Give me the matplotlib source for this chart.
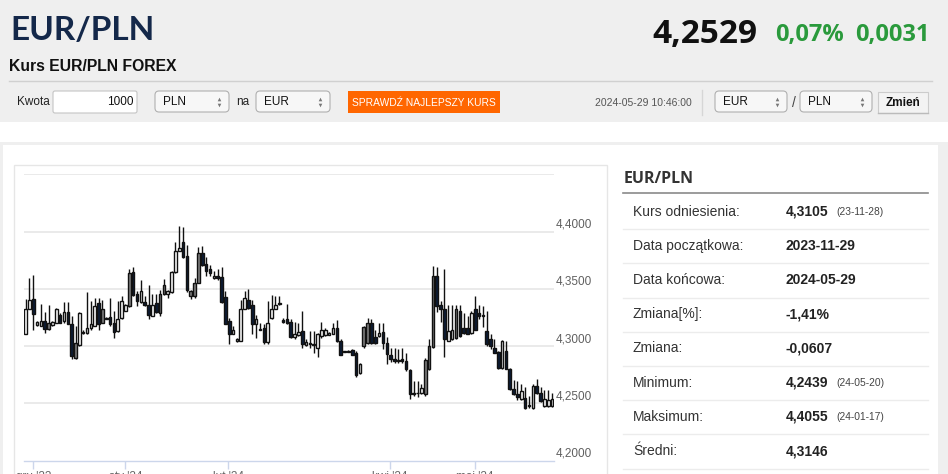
import matplotlib
matplotlib.use("Agg")
import matplotlib.pyplot as plt
from matplotlib.patches import Rectangle, FancyBboxPatch
import matplotlib.transforms as mtransforms
import numpy as np

# --- data: daily EUR/PLN candles, 2023-11-29 .. 2024-05-29
opens = [4.3108, 4.3326, 4.3413, 4.3183, 4.3180, 4.3218, 4.3151, 4.3183, 4.3203, 4.3270,
         4.3218, 4.3299, 4.3195, 4.2898, 4.3006, 4.3122, 4.3116, 4.3160, 4.3180, 4.3378,
         4.3203, 4.3247, 4.3253, 4.3203, 4.3131, 4.3247, 4.3311, 4.3349, 4.3648, 4.3451,
         4.3384, 4.3384, 4.3363, 4.3267, 4.3378, 4.3291, 4.3451, 4.3451, 4.3471, 4.3645,
         4.3834, 4.3907, 4.3791, 4.3436, 4.3436, 4.3552, 4.3814, 4.3721, 4.3674, 4.3596,
         4.3616, 4.3605, 4.3427, 4.3218, 4.3108, 4.3044, 4.3049, 4.3326, 4.3407, 4.3355,
         4.3195, 4.3151, 4.3160, 4.3035, 4.3247, 4.3326, 4.3372, 4.3227, 4.3233, 4.3209,
         4.3081, 4.3093, 4.3131, 4.3009, 4.3023, 4.3012, 4.2985, 4.3087, 4.3093, 4.3099,
         4.3110, 4.3160, 4.3044, 4.2956, 4.2956, 4.2962, 4.2942, 4.2762, 4.3000, 4.3029,
         4.3203, 4.3078, 4.3087, 4.3125, 4.3029, 4.2919, 4.2884, 4.2869, 4.2884, 4.2869,
         4.2788, 4.2587, 4.2590, 4.2593, 4.2578, 4.2797, 4.2994, 4.3616, 4.3363, 4.3326,
         4.3049, 4.3058, 4.3073, 4.3311, 4.3160, 4.3160, 4.3116, 4.3320, 4.3291, 4.3276,
         4.3131, 4.3058, 4.2985, 4.2951, 4.2811, 4.2956, 4.2802, 4.2628, 4.2578, 4.2541,
         4.2549, 4.2480, 4.2462, 4.2651, 4.2593, 4.2477, 4.2477, 4.2477]
highs = [4.3413, 4.3596, 4.3625, 4.3218, 4.3372, 4.3299, 4.3363, 4.3218, 4.3334, 4.3291,
         4.3384, 4.3387, 4.3262, 4.3174, 4.3297, 4.3145, 4.3474, 4.3392, 4.3422, 4.3422,
         4.3407, 4.3250, 4.3416, 4.3305, 4.3398, 4.3436, 4.3372, 4.3669, 4.3692, 4.3480,
         4.3581, 4.3436, 4.3538, 4.3451, 4.3451, 4.3494, 4.3590, 4.3494, 4.3654, 4.3907,
         4.4052, 4.4038, 4.3887, 4.3494, 4.3596, 4.3866, 4.3872, 4.3779, 4.3712, 4.3654,
         4.3669, 4.3692, 4.3480, 4.3247, 4.3174, 4.3073, 4.3407, 4.3480, 4.3500, 4.3407,
         4.3276, 4.3203, 4.3189, 4.3392, 4.3445, 4.3436, 4.3436, 4.3247, 4.3372, 4.3238,
         4.3209, 4.3203, 4.3305, 4.3058, 4.3131, 4.3131, 4.3116, 4.3209, 4.3160, 4.3122,
         4.3203, 4.3227, 4.3058, 4.2958, 4.2962, 4.2971, 4.2956, 4.2855, 4.3174, 4.3247,
         4.3233, 4.3145, 4.3203, 4.3203, 4.3078, 4.2985, 4.2985, 4.2971, 4.2985, 4.2936,
         4.2797, 4.2695, 4.2695, 4.2666, 4.2898, 4.3058, 4.3703, 4.3692, 4.3392, 4.3677,
         4.3363, 4.3363, 4.3363, 4.3355, 4.3291, 4.3267, 4.3305, 4.3436, 4.3363, 4.3349,
         4.3305, 4.3102, 4.3058, 4.2956, 4.3052, 4.3044, 4.2811, 4.2703, 4.2695, 4.2666,
         4.2645, 4.2564, 4.2666, 4.2715, 4.2645, 4.2616, 4.2616, 4.2593]
lows = [4.3108, 4.3326, 4.3145, 4.3174, 4.3174, 4.3116, 4.3145, 4.3174, 4.3198, 4.3198,
        4.3203, 4.3189, 4.2890, 4.2890, 4.3000, 4.3110, 4.3110, 4.3145, 4.3174, 4.3145,
        4.3198, 4.3233, 4.3174, 4.3073, 4.3122, 4.3238, 4.3305, 4.3343, 4.3436, 4.3349,
        4.3378, 4.3349, 4.3233, 4.3262, 4.3291, 4.3262, 4.3445, 4.3422, 4.3465, 4.3640,
        4.3828, 4.3770, 4.3471, 4.3413, 4.3422, 4.3547, 4.3703, 4.3610, 4.3610, 4.3587,
        4.3581, 4.3378, 4.3189, 4.3015, 4.3102, 4.3038, 4.3044, 4.3320, 4.3320, 4.3102,
        4.3067, 4.3145, 4.3020, 4.3023, 4.3241, 4.3320, 4.3363, 4.3203, 4.3189, 4.3073,
        4.3058, 4.3087, 4.2985, 4.3000, 4.2983, 4.2936, 4.2907, 4.3073, 4.3087, 4.3093,
        4.3102, 4.3035, 4.2919, 4.2948, 4.2948, 4.2919, 4.2733, 4.2753, 4.2985, 4.3020,
        4.3015, 4.3023, 4.3081, 4.2971, 4.2840, 4.2860, 4.2855, 4.2855, 4.2855, 4.2782,
        4.2535, 4.2564, 4.2558, 4.2578, 4.2564, 4.2791, 4.2988, 4.3297, 4.3209, 4.2907,
        4.3044, 4.3052, 4.3064, 4.3081, 4.3108, 4.3102, 4.3110, 4.3140, 4.3233, 4.3166,
        4.3000, 4.2977, 4.2936, 4.2802, 4.2802, 4.2797, 4.2613, 4.2570, 4.2529, 4.2529,
        4.2453, 4.2462, 4.2453, 4.2584, 4.2512, 4.2468, 4.2468, 4.2471]
closes = [4.3326, 4.3407, 4.3282, 4.3209, 4.3218, 4.3151, 4.3198, 4.3212, 4.3320, 4.3203,
          4.3297, 4.3189, 4.2913, 4.3029, 4.3291, 4.3116, 4.3160, 4.3189, 4.3349, 4.3189,
          4.3320, 4.3241, 4.3189, 4.3125, 4.3238, 4.3398, 4.3363, 4.3640, 4.3445, 4.3392,
          4.3480, 4.3363, 4.3270, 4.3355, 4.3299, 4.3451, 4.3538, 4.3485, 4.3645, 4.3834,
          4.3858, 4.3779, 4.3494, 4.3480, 4.3552, 4.3814, 4.3712, 4.3654, 4.3640, 4.3616,
          4.3596, 4.3384, 4.3195, 4.3108, 4.3140, 4.3064, 4.3320, 4.3422, 4.3334, 4.3195,
          4.3238, 4.3145, 4.3035, 4.3203, 4.3326, 4.3355, 4.3369, 4.3209, 4.3198, 4.3081,
          4.3102, 4.3122, 4.3023, 4.3038, 4.3020, 4.3020, 4.3108, 4.3145, 4.3145, 4.3116,
          4.3160, 4.3044, 4.2927, 4.2951, 4.2951, 4.2927, 4.2744, 4.2846, 4.3166, 4.3203,
          4.3029, 4.3029, 4.3116, 4.3029, 4.2933, 4.2884, 4.2869, 4.2875, 4.2866, 4.2797,
          4.2578, 4.2584, 4.2593, 4.2637, 4.2875, 4.3000, 4.3616, 4.3349, 4.3326, 4.3064,
          4.3131, 4.3145, 4.3320, 4.3087, 4.3116, 4.3110, 4.3291, 4.3145, 4.3267, 4.3262,
          4.3015, 4.3000, 4.2942, 4.2811, 4.3044, 4.2802, 4.2622, 4.2578, 4.2558, 4.2608,
          4.2462, 4.2477, 4.2651, 4.2593, 4.2520, 4.2535, 4.2529, 4.2535]
# candles drawn with a grey body in the original
grey_days = [6, 13, 20, 27, 35, 36, 43, 44, 45, 75, 88, 89, 104, 105, 106, 112]

month_ticks = [2, 26, 52.7, 94.8, 117]
month_labels = ["gru '23", "sty '24", "lut '24", "kwi '24", "maj '24"]
y_levels = [4.20, 4.25, 4.30, 4.35, 4.40, 4.45]

stat_labels = ["Kurs odniesienia:", "Data początkowa:", "Data końcowa:", "Zmiana[%]:",
               "Zmiana:", "Minimum:", "Maksimum:", "Średni:"]
stat_values = ["4,3105", "2023-11-29", "2024-05-29", "-1,41%", "-0,0607", "4,2439",
               "4,4055", "4,3146"]
stat_dates = ["(23-11-28)", "", "", "", "", "(24-05-20)", "(24-01-17)", ""]

W, H = 948, 474
fig = plt.figure(figsize=(W / 100, H / 100), dpi=100)
fig.patch.set_facecolor("#efefef")

# page layer in pixel coordinates (y grows downward)
bg = fig.add_axes([0, 0, 1, 1])
bg.set_xlim(0, W)
bg.set_ylim(H, 0)
bg.axis("off")

SANS = "Liberation Sans"

# white strip below the header and the white content panel
bg.add_patch(Rectangle((0, 122), W, 20, facecolor="white", edgecolor="none"))
bg.add_patch(Rectangle((3, 145), 935, 340, facecolor="white", edgecolor="none"))

# header texts
bg.text(10, 40, "EUR/PLN", family="Lato", weight="bold", fontsize=24,
        color="#14284a", va="baseline")
bg.text(9, 71, "Kurs EUR/PLN FOREX", family=SANS, weight="bold", fontsize=11.3,
        color="#111111", va="baseline")
bg.text(757, 43, "4,2529", family="Open Sans", weight="bold", fontsize=24,
        color="#111111", va="baseline", ha="right")
bg.text(775, 41, "0,07%", family="Open Sans", weight="bold", fontsize=17,
        color="#2a9a3c", va="baseline")
bg.text(930, 41, "0,0031", family="Open Sans", weight="bold", fontsize=17,
        color="#2a9a3c", va="baseline", ha="right")
bg.plot([9, 932], [81, 81], color="#d0d0d0", lw=1)


def select_box(x0, x1, label):
    bg.add_patch(FancyBboxPatch((x0, 91), x1 - x0, 21,
                                boxstyle="round,pad=0,rounding_size=4",
                                facecolor="#f7f7f7", edgecolor="#b0b0b0", lw=0.8))
    bg.text(x0 + 8, 101.5, label, family=SANS, fontsize=8.5, color="#111", va="center")
    bg.plot([x1 - 10], [99], marker="^", ms=2.6, color="#777", mec="none")
    bg.plot([x1 - 10], [104.5], marker="v", ms=2.6, color="#777", mec="none")


# form row
bg.text(17, 102, "Kwota", family=SANS, fontsize=8.5, color="#222", va="center")
bg.add_patch(FancyBboxPatch((53, 91), 84, 22, boxstyle="round,pad=0,rounding_size=2",
                            facecolor="white", edgecolor="#c4c4c4", lw=0.8))
bg.text(134, 102, "1000", family=SANS, fontsize=8.5, color="#111", va="center", ha="right")
select_box(155, 229, "PLN")
bg.text(236, 102, "na", family=SANS, fontsize=8.5, color="#222", va="center")
select_box(256, 330, "EUR")
bg.add_patch(Rectangle((348, 91), 152, 22, facecolor="#ff6600", edgecolor="none"))
bg.text(424, 102.5, "SPRAWDŹ NAJLEPSZY KURS", family=SANS, fontsize=7.4,
        color="white", va="center", ha="center")
bg.text(595, 103, "2024-05-29 10:46:00", family=SANS, fontsize=7.5, color="#555",
        va="center")
bg.plot([702, 702], [90, 115], color="#d6d6d6", lw=1)
select_box(715, 787, "EUR")
bg.text(794, 103, "/", family=SANS, fontsize=10, color="#444", va="center", ha="center")
select_box(800, 872, "PLN")
bg.add_patch(Rectangle((878, 92), 50, 21, facecolor="#f3f3f3", edgecolor="#cccccc", lw=0.8))
bg.plot([878, 928], [113, 113], color="#bbbbbb", lw=1)
bg.text(903, 102.5, "Zmień", family=SANS, weight="bold", fontsize=8.5, color="#111",
        va="center", ha="center")

# chart frame
bg.add_patch(Rectangle((14, 164.5), 593, 330, facecolor="white",
                       edgecolor="#e6e6e6", lw=1))

# stats panel
bg.text(624, 183, "EUR/PLN", family="Open Sans", weight="bold", fontsize=11.5,
        color="#333333", va="baseline")
bg.plot([623, 928], [193.3, 193.3], color="#8a8a8a", lw=1.2)
row_y = 211.7
for lab, val, dt in zip(stat_labels, stat_values, stat_dates):
    bg.text(633, row_y, lab, family=SANS, fontsize=10, color="#333", va="center")
    bg.text(786, row_y, val, family=SANS, fontsize=10, weight="bold", color="#222",
            va="center")
    if dt:
        bg.text(836, row_y + 0.5, dt, family=SANS, fontsize=7.4, color="#444", va="center")
    bg.plot([623, 928], [row_y + 17.5, row_y + 17.5], color="#ececec", lw=1)
    row_y += 34.2

# candlestick chart
ax = fig.add_axes([24 / W, 1 - 460.7 / H, 530 / W, 286.4 / H])
ax.patch.set_alpha(0)
n = len(opens)
x = np.arange(n)
o, h, l, c = map(np.array, (opens, highs, lows, closes))
ax.set_xlim(-0.4, n - 1 + 0.5)
ax.set_ylim(y_levels[0], y_levels[-1])

for v in y_levels[1:]:
    ax.axhline(v, color="#e6e6e6", lw=1.2, zorder=0)

ax.vlines(x, l, h, color="#111111", lw=1.0, zorder=2)
face = np.where(c >= o, "white", "#0c1b36").astype(object)
for i in grey_days:
    face[i] = "#7f7f7f"
bottom = np.minimum(o, c)
height = np.maximum(np.abs(c - o), 0.0005)
ax.bar(x, height, bottom=bottom, width=0.68, color=list(face), edgecolor="#111111",
       lw=1.0, zorder=3)

for s in ("top", "left", "right"):
    ax.spines[s].set_visible(False)
ax.spines["bottom"].set_color("#ccd6eb")
ax.spines["bottom"].set_linewidth(1)
ax.set_yticks([])
ax.set_xticks(month_ticks)
ax.set_xticklabels(month_labels, family=SANS, fontsize=8.5, color="#666666")
ax.tick_params(axis="x", length=5.8, width=1, color="#ccd6eb", pad=1.5)

lab_tr = mtransforms.offset_copy(ax.get_yaxis_transform(), fig=fig, x=2, y=4, units="dots")
for v in y_levels[:-1]:
    ax.text(1, v, f"{v:.4f}".replace(".", ","), transform=lab_tr, family=SANS,
            fontsize=8.5, color="#606060", va="baseline", ha="left", clip_on=False)

fig.savefig("out.png", dpi=100, facecolor=fig.get_facecolor())
